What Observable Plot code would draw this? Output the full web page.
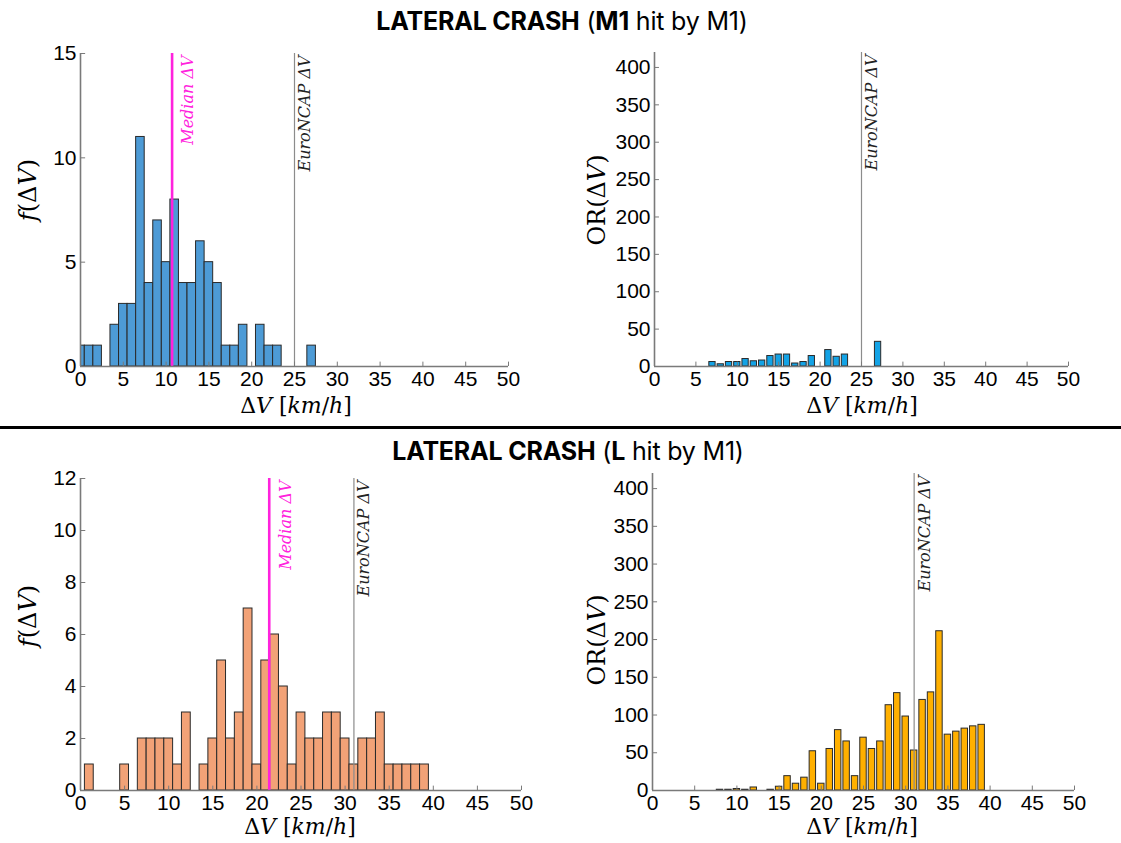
<!DOCTYPE html>
<html>
<head>
<meta charset="utf-8">
<script src="https://cdn.jsdelivr.net/npm/d3@7"></script>
<script src="https://cdn.jsdelivr.net/npm/@observablehq/plot@0.6"></script>
<style>
  html, body { margin: 0; padding: 0; background: #fff; }
  #root { position: relative; width: 1121px; height: 843px; overflow: hidden; background: #fff; }
  .panel { position: absolute; }
  .title { position: absolute; white-space: nowrap; transform: translateX(-50%); line-height: 1;
           font-family: "Inter", "Liberation Sans", sans-serif; font-size: 25px; color: #000; letter-spacing: -0.2px; }
  .title b { font-weight: bold; }
  .sep { position: absolute; left: 0; width: 1121px; height: 3px; background: #000; }
  .xlab { position: absolute; transform: translate(-50%, -50%); white-space: nowrap;
          font-family: "DejaVu Serif", "Liberation Serif", serif; font-size: 22px; color: #000; }
  .ylab { position: absolute; transform: translate(-50%, -50%) rotate(-90deg); white-space: nowrap;
          font-family: "DejaVu Serif", "Liberation Serif", serif; font-size: 24px; color: #000; }
  i { font-style: italic; }
</style>
</head>
<body>
<div id="root"></div>
<script>
// ---------- data ----------
const xTicks = [0, 5, 10, 15, 20, 25, 30, 35, 40, 45, 50];
const fTopTicks = [0, 5, 10, 15];
const fBottomTicks = [0, 2, 4, 6, 8, 10, 12];
const orTicks = [0, 50, 100, 150, 200, 250, 300, 350, 400];

// Top: LATERAL CRASH (M1 hit by M1)
const topDv     = [0,1,2,3,4,5,6,7,8,9,10,11,12,13,14,15,16,17,18,19,20,21,22,23,24,25,26,27];
const topCount  = [1,1,1,0,2,3,3,11,4,7,5,8,4,4,6,5,4,1,1,2,0,2,1,1,0,0,0,1];
const topOrDv   = [7,8,9,10,11,12,13,14,15,16,17,18,19,21,22,23,27];
const topOr     = [6,3,6,6,10,7,8,14,16,16,4,6,14,22,13,16,33];
const topMedian = 10.7;
const topEuroNCAP = 25;

// Bottom: LATERAL CRASH (L hit by M1)
const botDv     = [0,1,2,3,4,5,6,7,8,9,10,11,12,13,14,15,16,17,18,19,20,21,22,23,24,25,26,27,28,29,30,31,32,33,34,35,36,37,38,39];
const botCount  = [0,1,0,0,0,1,0,2,2,2,2,1,3,0,1,2,5,2,3,7,1,5,6,4,1,3,2,2,3,3,2,1,2,2,3,1,1,1,1,1];
const botOrDv   = [8,9,10,11,12,13,14,15,16,17,18,19,20,21,22,23,24,25,26,27,28,29,30,31,32,33,34,35,36,37,38,39];
const botOr     = [1,1,2,1,4,0,1,5,19,9,17,52,9,55,80,65,19,70,55,65,113,129,98,53,120,130,211,74,78,82,85,87];
const botMedian = 21.4;
const botEuroNCAP = 31;

// ---------- helpers ----------
const root = document.getElementById("root");
function place(el, left, top) {
  const d = document.createElement("div");
  d.className = "panel";
  d.style.left = left + "px";
  d.style.top = top + "px";
  d.appendChild(el);
  root.appendChild(d);
}
function html(cls, inner, x, y) {
  const d = document.createElement("div");
  d.className = cls;
  d.innerHTML = inner;
  d.style.left = x + "px";
  d.style.top = y + "px";
  root.appendChild(d);
}

function panel({dv, vals, yMax, yTicks, fill, inset, median, euro, w, h, m}) {
  const data = dv.map((d, i) => ({dv: d, v: vals[i]})).filter(d => d.v > 0);
  const marks = [
    Plot.rectY(data, {x1: d => d.dv - 0.5, x2: d => d.dv + 0.5, y: "v",
      fill, stroke: "#2a2a2a", strokeWidth: 1, insetLeft: inset, insetRight: inset, clip: true}),
    Plot.ruleX([euro], {stroke: "#8c8c8c", strokeWidth: 1.2}),
    Plot.text([euro], {x: d => d, y: yMax, text: () => "EuroNCAP ΔV", rotate: -90,
      textAnchor: "end", lineAnchor: "top", dx: 4, dy: 2, fill: "#222",
      fontFamily: "DejaVu Serif, Liberation Serif, serif", fontStyle: "italic", fontSize: 16})
  ];
  if (median != null) {
    marks.push(Plot.ruleX([median], {stroke: "#ff22dd", strokeWidth: 2.6}));
    marks.push(Plot.text([median], {x: d => d, y: yMax, text: () => "Median ΔV", rotate: -90,
      textAnchor: "end", lineAnchor: "top", dx: 10, dy: 2, fill: "#ff22dd",
      fontFamily: "DejaVu Serif, Liberation Serif, serif", fontStyle: "italic", fontSize: 16}));
  }
  marks.push(
    Plot.ruleX([0], {stroke: "#7a7a7a", strokeWidth: 1.6}),
    Plot.ruleY([0], {stroke: "#7a7a7a", strokeWidth: 1.6}),
    Plot.ruleY(yTicks, {x1: 0, x2: 0.6, stroke: "#7a7a7a"}),
    Plot.ruleX(xTicks, {y1: 0, y2: yMax * 0.014, stroke: "#7a7a7a"}),
    Plot.axisX(xTicks, {tickSize: 0, tickPadding: 5, fontSize: 21, fill: "#000", label: null}),
    Plot.axisY(yTicks, {tickSize: 0, tickPadding: 4, fontSize: 21, fill: "#000", label: null})
  );
  return Plot.plot({
    width: w, height: h,
    marginLeft: m[0], marginRight: m[1], marginTop: m[2], marginBottom: m[3],
    x: {domain: [0, 50]},
    y: {domain: [0, yMax]},
    style: {fontFamily: "Liberation Sans, Arial, sans-serif", fontSize: "21px", color: "#000", background: "transparent", overflow: "visible"},
    marks
  });
}

// ---------- titles ----------
html("title", "<b>LATERAL CRASH</b> (<b>M1</b> hit by M1)", 562, 9);
html("sep", "", 0, 426);
html("title", "<b>LATERAL CRASH</b> (<b>L</b> hit by M1)", 568, 439);

// ---------- panels ----------
place(panel({dv: topDv, vals: topCount, yMax: 15, yTicks: fTopTicks, fill: "#4d9bd6", inset: 0,
  median: topMedian, euro: topEuroNCAP, w: 560, h: 380, m: [80, 52, 13, 54]}), 0, 40);
place(panel({dv: topOrDv, vals: topOr, yMax: 420, yTicks: orTicks, fill: "#13a3e6", inset: 1,
  median: null, euro: topEuroNCAP, w: 561, h: 380, m: [94, 53, 12, 54]}), 560, 40);
place(panel({dv: botDv, vals: botCount, yMax: 12, yTicks: fBottomTicks, fill: "#f2a277", inset: 0,
  median: botMedian, euro: botEuroNCAP, w: 560, h: 380, m: [80, 39, 18, 50]}), 0, 460);
place(panel({dv: botOrDv, vals: botOr, yMax: 420, yTicks: orTicks, fill: "#ffb000", inset: 1,
  median: null, euro: botEuroNCAP, w: 561, h: 380, m: [92, 47, 13, 50]}), 560, 460);

// ---------- axis titles ----------
const xl = "Δ<i>V</i> [<i>km</i>/<i>h</i>]";
html("xlab", xl, 296, 405);
html("xlab", xl, 862, 405);
html("xlab", xl, 300, 826);
html("xlab", xl, 862, 826);
const fl = "<i>f</i>(Δ<i>V</i>)";
const ol = "OR(Δ<i>V</i>)";
html("ylab", fl, 28, 190);
html("ylab", ol, 597, 200);
html("ylab", fl, 28, 616);
html("ylab", ol, 597, 640);
</script>
</body>
</html>
